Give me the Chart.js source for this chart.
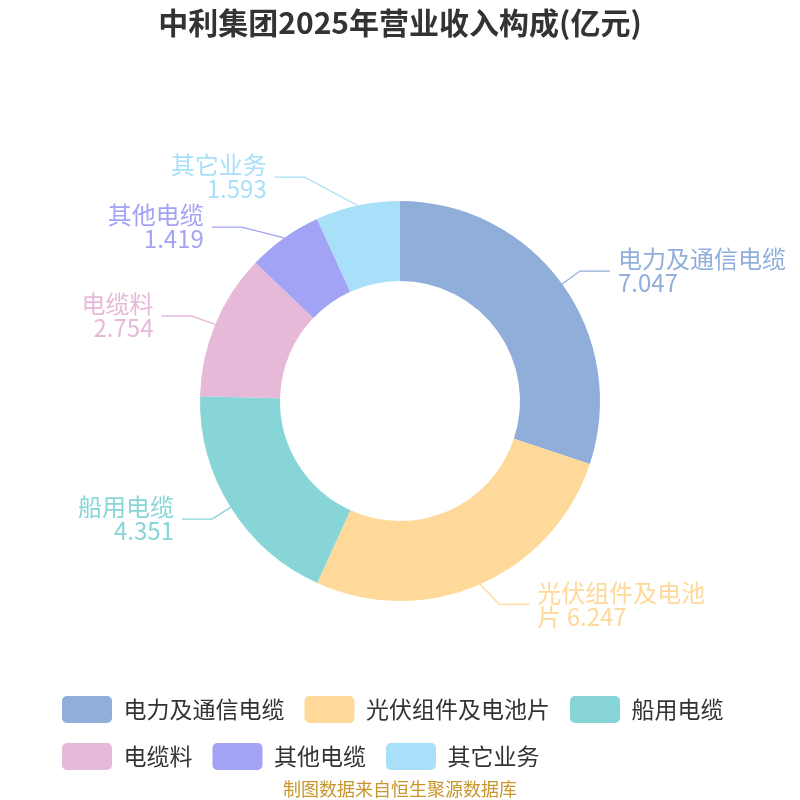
<!DOCTYPE html>
<html lang="zh">
<head>
    <meta charset="UTF-8">
    <title>中利集团2025年营业收入构成</title>
    <script src="https://cdn.jsdelivr.net/npm/chart.js"></script>
    <style>
        html, body {
            margin: 0;
            padding: 0;
            background: #fff;
        }
    </style>
</head>
<body>

    <canvas id="pieChart" width="800" height="800"></canvas>

    <script>
        // Revenue by segment (亿元)
        const categories = ['电力及通信电缆', '光伏组件及电池片', '船用电缆', '电缆料', '其他电缆', '其它业务'];
        const revenue = [7.047, 6.247, 4.351, 2.754, 1.419, 1.593];
        const sliceColors = ['#8FAEDA', '#FFD99A', '#88D5D8', '#E6B9D8', '#A2A3F5', '#A8DFF9'];

        const FONT = '"Noto Sans CJK SC", "Noto Sans", sans-serif';
        Chart.defaults.font.family = FONT;

        // Labels outside the ring with elbow leader lines
        const outsideLabels = {
            id: 'outsideLabels',
            afterDatasetsDraw(chart) {
                const ctx = chart.ctx;
                const meta = chart.getDatasetMeta(0);
                const items = meta.data.map((arc, i) => {
                    const p = arc.getProps(['x', 'y', 'startAngle', 'endAngle', 'outerRadius'], true);
                    const mid = (p.startAngle + p.endAngle) / 2;
                    const cos = Math.cos(mid), sin = Math.sin(mid);
                    const r1 = p.outerRadius + 22;
                    return {
                        i, cx: p.x, cy: p.y, r1,
                        x0: p.x + cos * p.outerRadius,
                        y0: p.y + sin * p.outerRadius,
                        y1: p.y + sin * r1,
                        dir: cos >= 0 ? 1 : -1
                    };
                });

                // push overlapping labels apart on each side
                const gap = 50;
                [1, -1].forEach(dir => {
                    const side = items.filter(it => it.dir === dir).sort((a, b) => a.y1 - b.y1);
                    for (let k = 0; k < 20; k++) {
                        for (let j = 0; j < side.length - 1; j++) {
                            const diff = side[j + 1].y1 - side[j].y1;
                            if (diff < gap) {
                                const d = (gap - diff) / 2;
                                side[j].y1 -= d;
                                side[j + 1].y1 += d;
                            }
                        }
                    }
                    // keep elbows on an ellipse per half
                    [true, false].forEach(top => {
                        const semi = side.filter(it => (it.y1 < it.cy) === top);
                        if (!semi.length) return;
                        const maxDy = Math.max(...semi.map(it => Math.abs(it.y1 - it.cy)));
                        const rB = Math.max(semi[0].r1, maxDy + 24);
                        semi.forEach(it => {
                            const dy = it.y1 - it.cy;
                            const dx = Math.sqrt(Math.max(0, 1 - dy * dy / (rB * rB))) * it.r1;
                            it.x1 = it.cx + dir * dx;
                        });
                    });
                });

                ctx.save();
                ctx.font = '24px ' + FONT;
                ctx.textBaseline = 'middle';
                items.forEach(it => {
                    const color = sliceColors[it.i];
                    const x2 = it.x1 + it.dir * 30;
                    ctx.strokeStyle = color;
                    ctx.lineWidth = 1.3;
                    ctx.beginPath();
                    ctx.moveTo(it.x0, it.y0);
                    ctx.lineTo(it.x1, it.y1);
                    ctx.lineTo(x2, it.y1);
                    ctx.stroke();

                    // name on first line, value on second; overflow chars move down
                    let name = categories[it.i];
                    let rest = '';
                    while (ctx.measureText(name).width > 180 && name.length > 1) {
                        rest = name.slice(-1) + rest;
                        name = name.slice(0, -1);
                    }
                    const line2 = (rest ? rest + ' ' : '') + revenue[it.i].toFixed(3);
                    const tx = x2 + it.dir * 8;
                    ctx.fillStyle = color;
                    ctx.textAlign = it.dir > 0 ? 'left' : 'right';
                    ctx.fillText(name, tx, it.y1 - 12);
                    ctx.fillText(line2, tx, it.y1 + 12);
                });
                ctx.restore();
            }
        };

        const ctx = document.getElementById('pieChart').getContext('2d');
        const pieChart = new Chart(ctx, {
            type: 'doughnut',
            data: {
                labels: categories,
                datasets: [{
                    data: revenue,
                    backgroundColor: sliceColors,
                    borderWidth: 0
                }]
            },
            options: {
                responsive: false,
                animation: false,
                radius: 200,
                cutout: '60%',
                layout: {
                    padding: { left: 42, right: 42, top: 0, bottom: 0 }
                },
                plugins: {
                    title: {
                        display: true,
                        text: '中利集团2025年营业收入构成(亿元)',
                        color: '#333',
                        font: { size: 30, weight: 'bold', lineHeight: 1.2 },
                        padding: { top: 5, bottom: 85 }
                    },
                    subtitle: {
                        display: true,
                        position: 'bottom',
                        text: '制图数据来自恒生聚源数据库',
                        color: '#C8962A',
                        font: { size: 18, lineHeight: 1 },
                        padding: { top: 0, bottom: 2 }
                    },
                    legend: {
                        position: 'bottom',
                        align: 'start',
                        labels: {
                            boxWidth: 50,
                            boxHeight: 27,
                            padding: 20,
                            color: '#333',
                            font: { size: 23 },
                            useBorderRadius: true,
                            borderRadius: 5
                        }
                    },
                    tooltip: { enabled: false }
                }
            },
            plugins: [outsideLabels]
        });
    </script>

</body>
</html>
